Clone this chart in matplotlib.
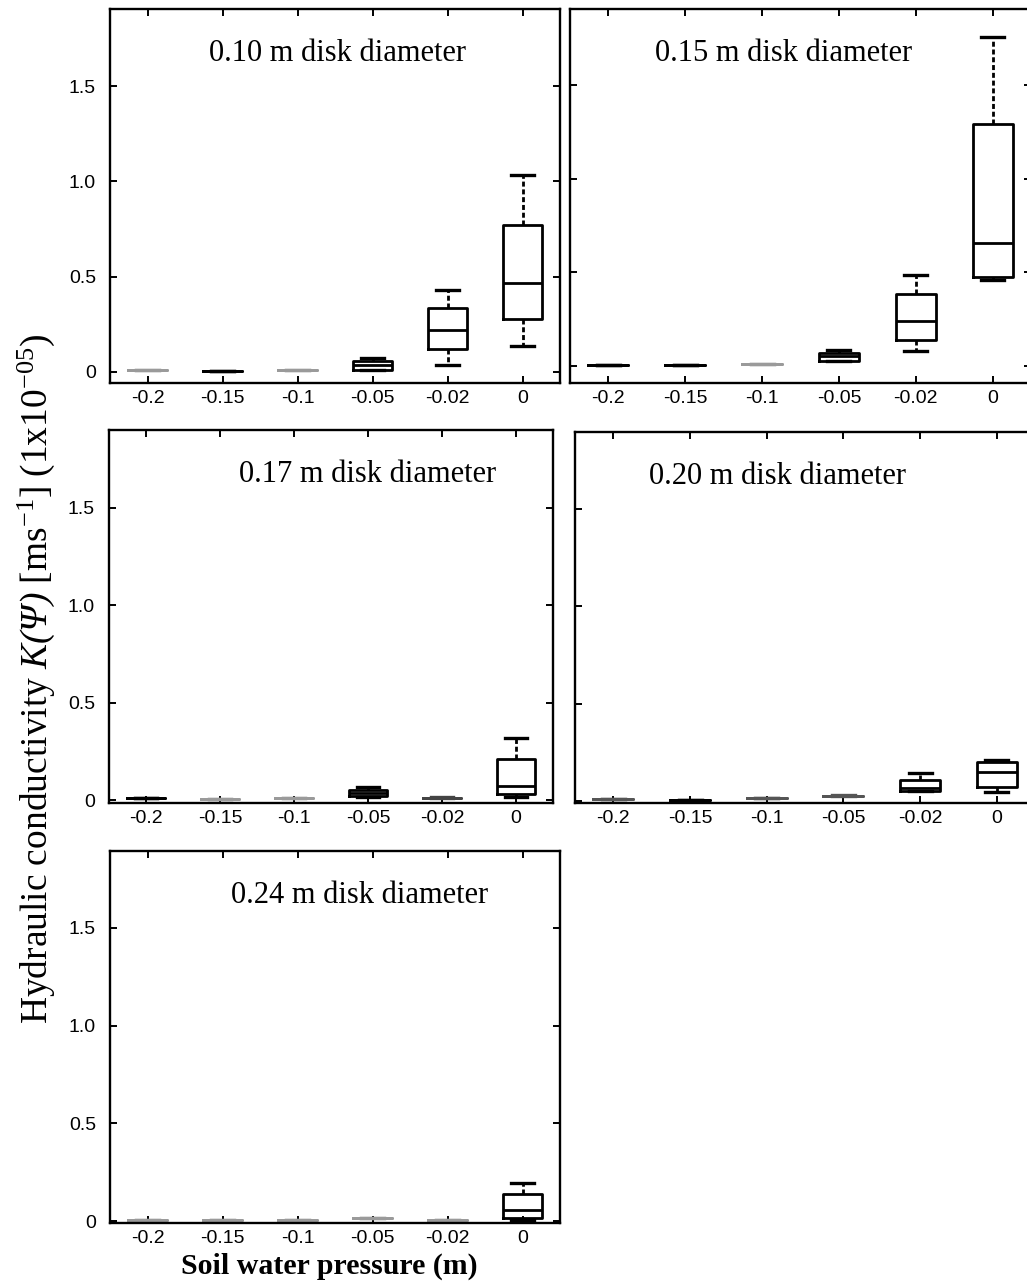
import matplotlib
matplotlib.use("Agg")
import matplotlib.pyplot as plt
import matplotlib.transforms as mtransforms

# ---------------- data ----------------
pressures = ["-0.2", "-0.15", "-0.1", "-0.05", "-0.02", "0"]
diameters = ["0.10", "0.15", "0.17", "0.20", "0.24"]
ytick_vals = [0, 0.5, 1.0, 1.5]
ytick_labels = ["0", "0.5", "1.0", "1.5"]

# K(psi) box statistics (x 1e-5 m/s) for each disk diameter
k010_whislo = [0.008, 0.003, 0.009, 0.012, 0.035, 0.136]
k010_q1     = [0.008, 0.003, 0.009, 0.012, 0.118, 0.280]
k010_med    = [0.008, 0.003, 0.009, 0.035, 0.218, 0.467]
k010_q3     = [0.008, 0.003, 0.009, 0.056, 0.333, 0.773]
k010_whishi = [0.008, 0.003, 0.009, 0.072, 0.430, 1.033]

k015_whislo = [0.004, 0.004, 0.009, 0.025, 0.078, 0.461]
k015_q1     = [0.004, 0.004, 0.009, 0.025, 0.137, 0.473]
k015_med    = [0.004, 0.004, 0.009, 0.051, 0.238, 0.656]
k015_q3     = [0.004, 0.004, 0.009, 0.071, 0.383, 1.293]
k015_whishi = [0.004, 0.004, 0.009, 0.087, 0.488, 1.759]

k017_whislo = [0.010, 0.005, 0.012, 0.017, 0.012, 0.017]
k017_q1     = [0.010, 0.005, 0.012, 0.021, 0.012, 0.031]
k017_med    = [0.010, 0.005, 0.012, 0.038, 0.012, 0.072]
k017_q3     = [0.010, 0.005, 0.012, 0.051, 0.012, 0.211]
k017_whishi = [0.010, 0.005, 0.012, 0.068, 0.016, 0.317]

k020_whislo = [0.010, 0.003, 0.014, 0.027, 0.053, 0.048]
k020_q1     = [0.010, 0.003, 0.014, 0.027, 0.053, 0.074]
k020_med    = [0.010, 0.003, 0.014, 0.027, 0.065, 0.151]
k020_q3     = [0.010, 0.003, 0.014, 0.027, 0.108, 0.199]
k020_whishi = [0.012, 0.003, 0.018, 0.030, 0.143, 0.211]

k024_whislo = [0.004, 0.004, 0.004, 0.014, 0.005, 0.005]
k024_q1     = [0.004, 0.004, 0.004, 0.014, 0.005, 0.014]
k024_med    = [0.004, 0.004, 0.004, 0.014, 0.005, 0.057]
k024_q3     = [0.004, 0.004, 0.004, 0.014, 0.005, 0.139]
k024_whishi = [0.004, 0.004, 0.004, 0.016, 0.005, 0.194]

panels_data = [
    (k010_whislo, k010_q1, k010_med, k010_q3, k010_whishi),
    (k015_whislo, k015_q1, k015_med, k015_q3, k015_whishi),
    (k017_whislo, k017_q1, k017_med, k017_q3, k017_whishi),
    (k020_whislo, k020_q1, k020_med, k020_q3, k020_whishi),
    (k024_whislo, k024_q1, k024_med, k024_q3, k024_whishi),
]

# ---------------- style / layout ----------------
W, H = 1027, 1284
plt.rcParams["font.family"] = ["Liberation Sans", "DejaVu Sans"]
plt.rcParams["mathtext.fontset"] = "custom"
plt.rcParams["mathtext.rm"] = "Liberation Serif"
plt.rcParams["mathtext.it"] = "Liberation Serif:italic"
plt.rcParams["mathtext.sf"] = "Liberation Serif:italic"
plt.rcParams["mathtext.bf"] = "Liberation Serif:bold"

GRAY = "#9a9a9a"
box_colors = [
    [GRAY, "k", GRAY, "k", "k", "k"],
    ["k", "k", GRAY, "k", "k", "k"],
    ["k", GRAY, GRAY, "k", "#444444", "k"],
    ["#555555", "k", "#555555", "#555555", "k", "k"],
    [GRAY, GRAY, GRAY, GRAY, GRAY, "k"],
]
# pixel boxes: left, right, top, bottom
rects = [(110, 560, 9, 383), (570, 1031, 9, 383), (109, 553, 430, 803),
         (575, 1035, 432, 803), (110, 560, 851, 1223)]
ylims = [(-0.058, 1.904), (-0.091, 1.906), (-0.015, 1.90), (-0.010, 1.895), (-0.010, 1.894)]
title_x = [2.53, 2.28, 3.0, 2.14, 2.83]
show_ylabels = [True, False, True, False, True]
LW = 2.0

fig = plt.figure(figsize=(W / 100, H / 100), dpi=100)

for i, (d, stats_arrays) in enumerate(zip(diameters, panels_data)):
    l, r, t, b = rects[i]
    ax = fig.add_axes([l / W, 1 - b / H, (r - l) / W, (b - t) / H])
    lo, q1, med, q3, hi = stats_arrays
    stats = [dict(whislo=lo[j], q1=q1[j], med=med[j], q3=q3[j], whishi=hi[j],
                  fliers=[], label=pressures[j]) for j in range(len(pressures))]
    for j, st in enumerate(stats):
        c = box_colors[i][j]
        ax.bxp([st], positions=[j], widths=0.52, showfliers=False,
               manage_ticks=False, capwidths=0.3,
               boxprops=dict(color=c, linewidth=LW),
               medianprops=dict(color=c, linewidth=LW),
               whiskerprops=dict(color=c, linewidth=LW, linestyle=(0, (1.8, 1.0))),
               capprops=dict(color=c, linewidth=LW + 0.4))
    ax.set_xlim(-0.5, len(pressures) - 0.5)
    ax.set_ylim(*ylims[i])
    ax.set_xticks(range(len(pressures)))
    ax.set_xticklabels(pressures)
    ax.set_yticks(ytick_vals)
    if show_ylabels[i]:
        ax.set_yticklabels(ytick_labels)
    else:
        ax.set_yticklabels([])
    ax.tick_params(axis="both", direction="in", length=5, width=1.4,
                   top=True, right=True, labelsize=14, colors="k")
    ax.tick_params(axis="x", pad=5)
    ax.tick_params(axis="y", pad=10)
    for sp in ax.spines.values():
        sp.set_linewidth(1.7)
        sp.set_color("k")
    trans = mtransforms.blended_transform_factory(ax.transData, ax.transAxes)
    ax.text(title_x[i], 1 - 52 / (b - t), f"{d} m disk diameter",
            transform=trans, ha="center", va="baseline", fontsize=22,
            family=["Liberation Serif", "DejaVu Serif"])

fig.text(36 / W, 1 - 679 / H,
         r"$\mathrm{Hydraulic\ conductivity\ }\mathsf{K(Ψ)}\mathrm{\ [ms^{-1}]\ (1x10^{-05})}$",
         rotation=90, ha="center", va="center", fontsize=27)
fig.text(329 / W, 1 - 1266 / H, "Soil water pressure (m)",
         ha="center", va="center", fontsize=21.5, fontweight="bold",
         family=["Liberation Serif", "DejaVu Serif"])

fig.savefig("out.png", dpi=100)
